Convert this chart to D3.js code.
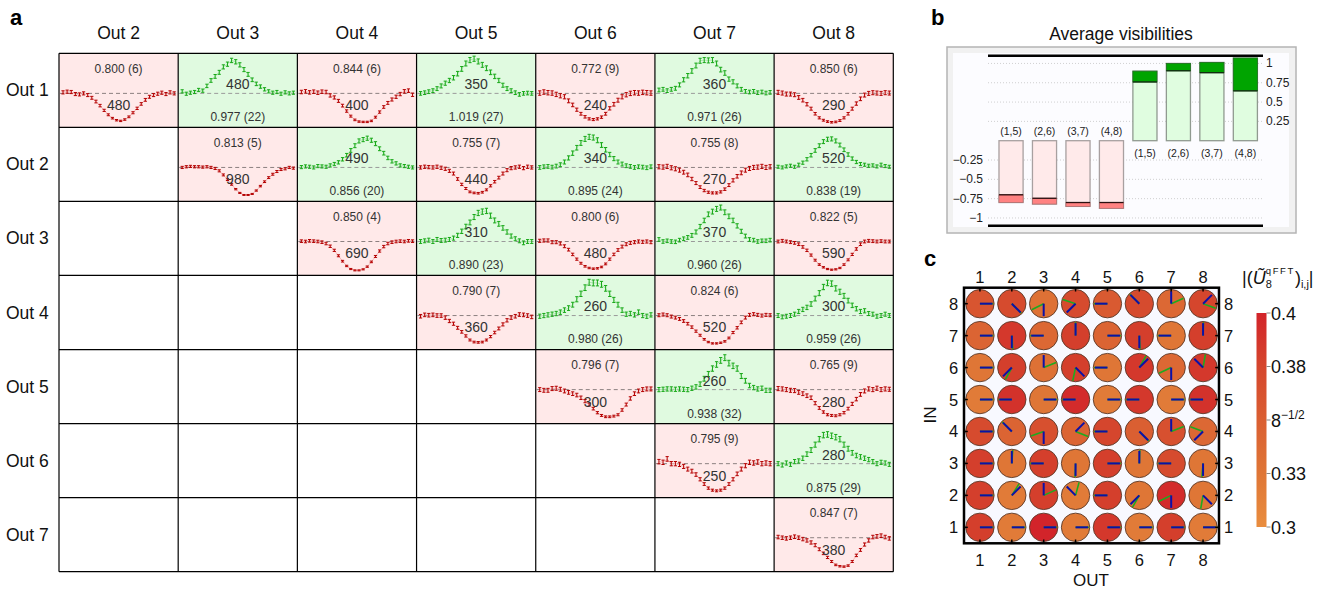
<!DOCTYPE html>
<html><head><meta charset="utf-8">
<script src="https://cdn.jsdelivr.net/npm/d3@7"></script>
<style>
body{margin:0;background:#fff;}
svg{display:block;font-family:"Liberation Sans",Arial,Helvetica,sans-serif;}
</style>
</head><body>
<svg id="chart" width="1320" height="593"></svg>
<script>
// ---------------- Panel a data ----------------
const outCols = ["Out 2","Out 3","Out 4","Out 5","Out 6","Out 7","Out 8"];
const outRows = ["Out 1","Out 2","Out 3","Out 4","Out 5","Out 6","Out 7"];
const cellPairs = [[1,2],[1,3],[1,4],[1,5],[1,6],[1,7],[1,8],
  [2,3],[2,4],[2,5],[2,6],[2,7],[2,8],
  [3,4],[3,5],[3,6],[3,7],[3,8],
  [4,5],[4,6],[4,7],[4,8],
  [5,6],[5,7],[5,8],
  [6,7],[6,8],
  [7,8]];
const cellKind = ["dip","peak","dip","peak","dip","peak","dip",
  "dip","peak","dip","peak","dip","peak",
  "dip","peak","dip","peak","dip",
  "dip","peak","dip","peak",
  "dip","peak","dip",
  "dip","peak",
  "dip"];
const visLabels = ["0.800 (6)","0.977 (22)","0.844 (6)","1.019 (27)","0.772 (9)","0.971 (26)","0.850 (6)",
  "0.813 (5)","0.856 (20)","0.755 (7)","0.895 (24)","0.755 (8)","0.838 (19)",
  "0.850 (4)","0.890 (23)","0.800 (6)","0.960 (26)","0.822 (5)",
  "0.790 (7)","0.980 (26)","0.824 (6)","0.959 (26)",
  "0.796 (7)","0.938 (32)","0.765 (9)",
  "0.795 (9)","0.875 (29)",
  "0.847 (7)"];
const countLabels = [480,480,400,350,240,360,290,
  980,490,440,340,270,520,
  690,310,480,370,590,
  360,260,520,300,
  300,260,280,
  250,280,
  380];
// normalised coincidence rates (baseline = 1)
const curves = [
 [1.03,1.05,1.04,0.98,0.97,1.00,0.95,0.87,0.76,0.64,0.50,0.37,0.27,0.21,0.19,0.23,0.31,0.43,0.56,0.69,0.81,0.90,0.95,0.99,1.02,0.98,1.03,1.00],
 [1.06,0.99,1.02,1.04,1.10,1.08,1.22,1.38,1.50,1.62,1.78,1.86,1.97,1.93,1.84,1.70,1.56,1.40,1.28,1.20,1.12,1.06,1.02,1.04,0.99,1.03,1.00,1.02],
 [1.04,1.06,1.03,1.05,1.02,1.05,1.04,0.94,0.88,0.78,0.64,0.48,0.33,0.22,0.17,0.16,0.16,0.19,0.30,0.45,0.60,0.72,0.82,0.90,0.98,1.06,1.08,0.96],
 [1.00,1.02,1.05,1.08,1.14,1.22,1.30,1.38,1.46,1.58,1.72,1.88,1.98,2.02,1.94,1.84,1.74,1.62,1.50,1.38,1.24,1.14,1.08,1.02,0.97,1.00,1.01,1.00],
 [1.01,1.04,1.02,1.01,0.97,0.93,0.90,0.78,0.66,0.52,0.40,0.31,0.25,0.23,0.25,0.30,0.40,0.56,0.68,0.80,0.90,0.96,1.00,1.02,1.01,1.03,1.02,1.01],
 [1.10,1.12,1.08,1.12,1.15,1.25,1.40,1.52,1.66,1.82,1.96,1.98,1.97,1.98,1.88,1.70,1.60,1.42,1.34,1.22,1.12,1.06,1.04,1.06,1.02,1.04,1.01,1.03],
 [1.03,1.01,0.98,0.98,0.96,0.88,0.80,0.68,0.55,0.40,0.28,0.21,0.17,0.15,0.16,0.20,0.28,0.40,0.55,0.70,0.84,0.95,1.00,1.02,1.01,1.00,1.02,1.01],
 [1.00,1.02,1.03,1.02,1.02,1.01,1.02,1.00,0.97,0.90,0.78,0.64,0.50,0.36,0.25,0.19,0.19,0.22,0.32,0.45,0.58,0.70,0.80,0.88,0.94,0.96,1.00,0.98],
 [1.01,1.03,1.02,1.00,1.04,1.03,1.02,1.06,1.10,1.15,1.24,1.36,1.50,1.64,1.78,1.82,1.86,1.80,1.70,1.55,1.42,1.28,1.18,1.12,1.06,1.04,1.02,1.00],
 [1.00,1.02,1.01,1.00,1.02,0.99,0.96,0.90,0.82,0.66,0.50,0.38,0.28,0.25,0.24,0.27,0.34,0.46,0.58,0.70,0.82,0.92,0.98,1.00,1.02,0.98,1.02,1.00],
 [1.00,1.02,1.03,1.01,1.04,1.08,1.16,1.28,1.42,1.58,1.72,1.84,1.90,1.88,1.80,1.66,1.52,1.38,1.26,1.16,1.10,1.05,1.03,1.00,1.02,1.01,0.99,1.02],
 [1.02,1.01,1.03,0.99,0.96,0.92,0.86,0.78,0.66,0.54,0.42,0.32,0.27,0.25,0.25,0.28,0.36,0.48,0.62,0.74,0.84,0.92,0.97,1.00,1.01,1.03,1.00,1.02],
 [1.02,1.00,1.03,1.05,1.02,1.08,1.14,1.24,1.36,1.50,1.64,1.76,1.83,1.84,1.78,1.66,1.52,1.38,1.26,1.16,1.10,1.08,1.05,1.06,1.03,1.08,1.04,1.02],
 [1.01,1.00,1.02,1.01,1.00,0.98,0.94,0.86,0.74,0.58,0.42,0.28,0.19,0.15,0.15,0.18,0.26,0.40,0.56,0.72,0.85,0.94,0.98,1.00,1.01,1.00,1.02,1.01],
 [1.00,1.02,1.04,1.00,1.06,1.03,1.04,1.06,1.10,1.18,1.30,1.44,1.56,1.72,1.84,1.88,1.90,1.76,1.62,1.52,1.40,1.28,1.16,1.08,1.02,0.96,1.00,1.00],
 [1.02,1.03,1.03,0.98,0.98,0.94,0.86,0.76,0.62,0.48,0.36,0.27,0.22,0.20,0.21,0.25,0.34,0.48,0.62,0.75,0.85,0.92,0.96,0.98,1.00,0.99,1.00,0.98],
 [1.06,1.00,1.02,1.00,0.99,1.04,1.08,1.12,1.18,1.28,1.44,1.62,1.80,1.88,1.96,2.00,1.86,1.74,1.62,1.46,1.30,1.16,1.06,1.04,1.00,1.02,1.02,1.04],
 [1.00,1.02,1.00,0.98,0.96,0.92,0.84,0.74,0.60,0.45,0.32,0.24,0.19,0.17,0.18,0.22,0.32,0.46,0.62,0.78,0.92,1.00,1.02,1.01,1.00,1.01,1.00,1.00],
 [0.98,1.02,1.01,1.02,1.00,1.00,0.94,0.84,0.76,0.64,0.52,0.40,0.28,0.22,0.21,0.22,0.28,0.38,0.50,0.62,0.74,0.86,0.94,0.98,1.03,1.02,1.00,0.96],
 [0.98,1.00,1.02,1.04,1.06,1.10,1.16,1.22,1.32,1.48,1.64,1.82,1.98,1.96,1.96,1.92,1.80,1.64,1.46,1.32,1.16,1.04,1.06,1.02,1.10,1.00,0.98,1.02],
 [1.01,1.03,1.01,0.97,0.94,0.90,0.84,0.76,0.66,0.54,0.42,0.30,0.22,0.18,0.18,0.20,0.24,0.34,0.50,0.64,0.80,0.94,1.02,1.04,1.02,1.00,1.02,1.01],
 [1.00,0.96,0.98,1.00,1.04,1.12,1.18,1.24,1.34,1.50,1.66,1.84,1.96,1.94,1.80,1.70,1.58,1.44,1.30,1.20,1.12,1.14,1.06,1.04,0.98,1.00,1.04,1.00],
 [1.00,0.98,0.98,1.03,1.04,1.01,0.96,0.92,0.88,0.84,0.76,0.66,0.56,0.44,0.32,0.24,0.20,0.20,0.22,0.26,0.40,0.56,0.74,0.88,0.96,1.00,1.02,1.02],
 [1.00,1.01,1.02,1.02,1.01,1.02,1.01,1.00,1.04,1.08,1.16,1.32,1.46,1.62,1.74,1.86,1.94,1.78,1.70,1.62,1.40,1.26,1.12,1.06,1.02,1.04,0.98,0.98],
 [1.03,1.02,1.00,0.98,0.97,0.92,0.88,0.82,0.76,0.60,0.46,0.34,0.26,0.24,0.23,0.26,0.32,0.44,0.58,0.72,0.86,0.96,1.02,1.00,1.04,1.00,1.02,1.01],
 [1.06,1.04,1.14,1.00,1.00,0.98,0.92,0.84,0.78,0.68,0.54,0.40,0.28,0.22,0.20,0.22,0.28,0.40,0.54,0.70,0.84,0.94,1.04,1.02,1.05,1.00,1.02,1.00],
 [1.00,0.96,1.02,0.98,1.06,1.08,1.16,1.28,1.40,1.56,1.72,1.84,1.86,1.82,1.78,1.72,1.56,1.44,1.32,1.24,1.20,1.16,1.12,1.06,1.00,1.04,1.02,0.98],
 [1.02,1.00,0.98,1.00,1.03,1.00,0.96,0.92,0.86,0.78,0.66,0.54,0.42,0.30,0.20,0.16,0.15,0.18,0.30,0.48,0.64,0.80,0.92,1.02,1.04,1.06,1.02,0.98]
];

// ---------------- Panel b data ----------------
const visPairs = ["(1,5)","(2,6)","(3,7)","(4,8)"];
const dipInner = [-0.70,-0.745,-0.80,-0.80];
const dipOuter = [-0.80,-0.82,-0.85,-0.875];
const peakInner = [0.76,0.905,0.88,0.645];
const peakOuter = [0.90,1.00,1.013,1.07];
const leftTicks = [-0.25,-0.5,-0.75,-1];
const rightTicks = [1,0.75,0.5,0.25];

// ---------------- Panel c data ----------------
const outIdx = [1,2,3,4,5,6,7,8];
const inIdx = [8,7,6,5,4,3,2,1]; // rows top to bottom
const magnitude = [
 [0.36,0.37,0.33,0.37,0.355,0.37,0.34,0.375],
 [0.345,0.385,0.34,0.38,0.345,0.38,0.325,0.38],
 [0.325,0.38,0.33,0.38,0.325,0.385,0.34,0.385],
 [0.32,0.39,0.325,0.395,0.32,0.385,0.32,0.39],
 [0.37,0.345,0.365,0.345,0.375,0.35,0.365,0.34],
 [0.38,0.325,0.38,0.325,0.38,0.325,0.37,0.325],
 [0.38,0.32,0.38,0.32,0.38,0.325,0.395,0.325],
 [0.38,0.32,0.40,0.32,0.385,0.32,0.38,0.32]
];
const bluePhase = [
 [0,315,270,225,180,135,90,45],
 [0,270,180,90,0,270,180,90],
 [0,225,90,315,180,45,270,135],
 [0,180,0,180,0,180,0,180],
 [0,135,270,45,180,315,90,225],
 [0,90,180,270,0,90,180,270],
 [0,45,90,135,180,225,270,315],
 [0,0,0,0,0,0,0,0]
];
const greenPhase = [
 [0,315,207,162,180,135,24,-20],
 [0,274,180,90,0,273,180,88],
 [0,242,22,258,180,60,205,80],
 [0,180,0,180,0,180,0,180],
 [0,135,200,-22,180,315,22,160],
 [0,86,180,268,0,88,180,265],
 [0,58,24,75,180,240,206,260],
 [0,0,0,0,0,0,0,0]
];
const cbTicks = [0.4,0.375,0.35,0.325,0.3];
const cbTickLabels = ["0.4","0.38","8^-1/2","0.33","0.3"];

// ======================================================
const svg = d3.select("#chart");

// panel letters
svg.append("text").attr("x",10).attr("y",25).attr("font-size",22).attr("font-weight","bold").text("a");
svg.append("text").attr("x",931).attr("y",25).attr("font-size",22).attr("font-weight","bold").text("b");
svg.append("text").attr("x",924).attr("y",266).attr("font-size",22).attr("font-weight","bold").text("c");

// ---------------- Panel a ----------------
const gA = svg.append("g");
const colScale = d3.scaleBand().domain(outCols).range([59, 893.3]);
const rowScale = d3.scaleBand().domain(outRows).range([53.3, 571.7]);
const cw = colScale.bandwidth(), rh = rowScale.bandwidth();

cellPairs.forEach((p,k)=>{
  const x0 = colScale(outCols[p[1]-2]), y0 = rowScale(outRows[p[0]-1]);
  gA.append("rect").attr("x",x0).attr("y",y0).attr("width",cw).attr("height",rh)
    .attr("fill", cellKind[k]==="dip" ? "#ffe9e9" : "#e0fae0");
});

cellPairs.forEach((p,k)=>{
  const x0 = colScale(outCols[p[1]-2]), y0 = rowScale(outRows[p[0]-1]);
  const isDip = cellKind[k]==="dip";
  const data = curves[k];
  const xs = d3.scaleLinear().domain([0, data.length-1]).range([x0+4, x0+cw-4]);
  const ys = d3.scaleLinear().domain([0, 2.18]).range([y0+rh, y0]);
  const g = gA.append("g");
  g.append("line").attr("x1",x0+1).attr("x2",x0+cw-1).attr("y1",ys(1)).attr("y2",ys(1))
    .attr("stroke", isDip ? "#8c8080" : "#9a9a9a").attr("stroke-width",1).attr("stroke-dasharray","4,3");
  g.append("path").datum(data)
    .attr("d", d3.line().x((d,i)=>xs(i)).y(d=>ys(d)))
    .attr("fill","none").attr("stroke", isDip ? "#f4b0b0" : "#a8e4a8").attr("stroke-width",0.9);
  const col = isDip ? "#b40000" : "#16a816";
  const N = countLabels[k];
  data.forEach((v,i)=>{
    const err = Math.sqrt(v*N)/N;
    const x = xs(i), ya = ys(v+err), yb = ys(v-err);
    g.append("line").attr("x1",x).attr("x2",x).attr("y1",ya).attr("y2",yb).attr("stroke",col).attr("stroke-width",1);
    g.append("line").attr("x1",x-1.6).attr("x2",x+1.6).attr("y1",ya).attr("y2",ya).attr("stroke",col).attr("stroke-width",1);
    g.append("line").attr("x1",x-1.6).attr("x2",x+1.6).attr("y1",yb).attr("y2",yb).attr("stroke",col).attr("stroke-width",1);
  });
  const cx = x0 + cw/2;
  if (isDip) {
    g.append("text").attr("x",cx).attr("y",y0+19.5).attr("text-anchor","middle").attr("font-size",12).attr("fill","#333").text(visLabels[k]);
    g.append("text").attr("x",cx).attr("y",y0+57).attr("text-anchor","middle").attr("font-size",14).attr("fill","#333").text(countLabels[k]);
  } else {
    g.append("text").attr("x",cx).attr("y",y0+36).attr("text-anchor","middle").attr("font-size",14).attr("fill","#333").text(countLabels[k]);
    g.append("text").attr("x",cx).attr("y",y0+68).attr("text-anchor","middle").attr("font-size",12).attr("fill","#333").text(visLabels[k]);
  }
});

outCols.forEach(c=>{
  const x = colScale(c);
  gA.append("line").attr("x1",x).attr("x2",x).attr("y1",53.3).attr("y2",571.7).attr("stroke","#000").attr("stroke-width",1.2);
});
gA.append("line").attr("x1",893.3).attr("x2",893.3).attr("y1",53.3).attr("y2",571.7).attr("stroke","#000").attr("stroke-width",1.2);
outRows.forEach(r=>{
  const y = rowScale(r);
  gA.append("line").attr("x1",59).attr("x2",893.3).attr("y1",y).attr("y2",y).attr("stroke","#000").attr("stroke-width",1.2);
});
gA.append("line").attr("x1",59).attr("x2",893.3).attr("y1",571.7).attr("y2",571.7).attr("stroke","#000").attr("stroke-width",1.2);

outCols.forEach(c=>{
  gA.append("text").attr("x",colScale(c)+cw/2).attr("y",39).attr("text-anchor","middle").attr("font-size",17.5).attr("fill","#111").text(c);
});
outRows.forEach(r=>{
  gA.append("text").attr("x",6).attr("y",rowScale(r)+rh/2+6).attr("font-size",17.5).attr("fill","#111").text(r);
});

// ---------------- Panel b ----------------
const gB = svg.append("g");
gB.append("text").attr("x",1121).attr("y",40).attr("text-anchor","middle").attr("font-size",17.5).attr("fill","#111").text("Average visibilities");
gB.append("rect").attr("x",947).attr("y",47).attr("width",349).attr("height",186).attr("fill","#f1f1f1").attr("stroke","#b4b4b4").attr("stroke-width",1.5);
gB.append("rect").attr("x",953).attr("y",53).attr("width",336).attr("height",174).attr("fill","#fcfcff");
const yB = d3.scaleLinear().domain([-1.1,1.1]).range([225.7,55.7]);
const xB = d3.scaleBand().domain(d3.range(8)).range([994.3,1262.1]).paddingInner(0.28).paddingOuter(0.14);
leftTicks.concat(rightTicks).forEach(t=>{
  gB.append("line").attr("x1",988).attr("x2",1263).attr("y1",yB(t)).attr("y2",yB(t))
    .attr("stroke","#c4c4c4").attr("stroke-width",0.8).attr("stroke-dasharray","1,2");
});
const bw = xB.bandwidth();
visPairs.forEach((lab,i)=>{
  const x = xB(i);
  gB.append("rect").attr("x",x).attr("y",yB(0)).attr("width",bw).attr("height",yB(dipOuter[i])-yB(0))
    .attr("fill","#ffeaea").attr("stroke","#a8a0a0").attr("stroke-width",1.3);
  gB.append("rect").attr("x",x).attr("y",yB(dipInner[i])).attr("width",bw).attr("height",yB(dipOuter[i])-yB(dipInner[i]))
    .attr("fill","#ff8282").attr("stroke","#b07070").attr("stroke-width",0.8);
  gB.append("line").attr("x1",x).attr("x2",x+bw).attr("y1",yB(dipInner[i])).attr("y2",yB(dipInner[i])).attr("stroke","#2a1010").attr("stroke-width",1.3);
  gB.append("text").attr("x",x+bw/2).attr("y",yB(0)-6).attr("text-anchor","middle").attr("font-size",10.5).attr("fill","#222").text(lab);

  const xg = xB(i+4);
  gB.append("rect").attr("x",xg).attr("y",yB(peakOuter[i])).attr("width",bw).attr("height",yB(0)-yB(peakOuter[i]))
    .attr("fill","#e0fde0").attr("stroke","#909a90").attr("stroke-width",1.3);
  gB.append("rect").attr("x",xg).attr("y",yB(peakOuter[i])).attr("width",bw).attr("height",yB(peakInner[i])-yB(peakOuter[i]))
    .attr("fill","#00a400").attr("stroke","#207020").attr("stroke-width",0.8);
  gB.append("line").attr("x1",xg).attr("x2",xg+bw).attr("y1",yB(peakInner[i])).attr("y2",yB(peakInner[i])).attr("stroke","#102a10").attr("stroke-width",1.3);
  gB.append("text").attr("x",xg+bw/2).attr("y",yB(0)+16).attr("text-anchor","middle").attr("font-size",10.5).attr("fill","#222").text(lab);
});
gB.append("line").attr("x1",988).attr("x2",1263).attr("y1",yB(1.1)).attr("y2",yB(1.1)).attr("stroke","#000").attr("stroke-width",2.5);
gB.append("line").attr("x1",988).attr("x2",1263).attr("y1",yB(-1.1)).attr("y2",yB(-1.1)).attr("stroke","#000").attr("stroke-width",2.5);
leftTicks.forEach(t=>{
  gB.append("text").attr("x",983).attr("y",yB(t)+4).attr("text-anchor","end").attr("font-size",12).attr("fill","#222").text(d3.format(".2~f")(t).replace("-","\u2212"));
});
rightTicks.forEach(t=>{
  gB.append("text").attr("x",1266).attr("y",yB(t)+4).attr("font-size",12).attr("fill","#222").text(d3.format(".2~f")(t));
});

// ---------------- Panel c ----------------
const gC = svg.append("g");
const xC = d3.scaleLinear().domain([0.5,8.5]).range([964,1219]);
const yC = d3.scaleLinear().domain([0.5,8.5]).range([543.3,287.7]);
const colorC = d3.scaleLinear().domain([0.3,0.325,0.35,0.375,0.4])
  .range(["#e98d3e","#df7636","#da5f32","#d5462d","#d2242a"]);
gC.append("rect").attr("x",964).attr("y",287.7).attr("width",255).attr("height",255.6).attr("fill","#f8f9ff");
const R = 14.2;
inIdx.forEach((inn,r)=>{
  outIdx.forEach((out,c)=>{
    const cx = xC(out), cy = yC(inn);
    gC.append("circle").attr("cx",cx).attr("cy",cy).attr("r",R)
      .attr("fill",colorC(magnitude[r][c])).attr("stroke","#5a3a2a").attr("stroke-width",0.9);
    const ga = greenPhase[r][c]*Math.PI/180, ba = bluePhase[r][c]*Math.PI/180;
    gC.append("line").attr("x1",cx).attr("y1",cy).attr("x2",cx+R*0.95*Math.cos(ga)).attr("y2",cy-R*0.95*Math.sin(ga))
      .attr("stroke","#1faa1f").attr("stroke-width",1.6);
    gC.append("line").attr("x1",cx).attr("y1",cy).attr("x2",cx+R*0.88*Math.cos(ba)).attr("y2",cy-R*0.88*Math.sin(ba))
      .attr("stroke","#0c10a8").attr("stroke-width",2);
  });
});
gC.append("rect").attr("x",964).attr("y",287.7).attr("width",255).attr("height",255.6).attr("fill","none").attr("stroke","#000").attr("stroke-width",2.5);
outIdx.forEach(v=>{
  const x = xC(v);
  gC.append("line").attr("x1",x).attr("x2",x).attr("y1",287.7).attr("y2",291.5).attr("stroke","#000").attr("stroke-width",1.5);
  gC.append("line").attr("x1",x).attr("x2",x).attr("y1",543.3).attr("y2",539.5).attr("stroke","#000").attr("stroke-width",1.5);
  gC.append("text").attr("x",x).attr("y",282.5).attr("text-anchor","middle").attr("font-size",16.5).attr("fill","#111").text(v);
  gC.append("text").attr("x",x).attr("y",566).attr("text-anchor","middle").attr("font-size",16.5).attr("fill","#111").text(v);
});
inIdx.forEach(v=>{
  const y = yC(v);
  gC.append("line").attr("x1",964).attr("x2",967.8).attr("y1",y).attr("y2",y).attr("stroke","#000").attr("stroke-width",1.5);
  gC.append("line").attr("x1",1219).attr("x2",1215.2).attr("y1",y).attr("y2",y).attr("stroke","#000").attr("stroke-width",1.5);
  gC.append("text").attr("x",953.5).attr("y",y+6).attr("text-anchor","middle").attr("font-size",16.5).attr("fill","#111").text(v);
  gC.append("text").attr("x",1228.5).attr("y",y+6).attr("text-anchor","middle").attr("font-size",16.5).attr("fill","#111").text(v);
});
gC.append("text").attr("x",1091).attr("y",586).attr("text-anchor","middle").attr("font-size",17).attr("fill","#111").text("OUT");
gC.append("text").attr("transform","translate(936,415) rotate(-90)").attr("text-anchor","middle").attr("font-size",17).attr("fill","#111").text("IN");

// colorbar
const defs = svg.append("defs");
const grad = defs.append("linearGradient").attr("id","cbgrad").attr("x1",0).attr("y1",1).attr("x2",0).attr("y2",0);
const yCB = d3.scaleLinear().domain([0.3,0.4]).range([527,313]);
colorC.domain().forEach(d=>{
  grad.append("stop").attr("offset",(d-0.3)/0.1).attr("stop-color",colorC(d));
});
gC.append("rect").attr("x",1256.5).attr("y",yCB(0.4)).attr("width",10).attr("height",yCB(0.3)-yCB(0.4)).attr("fill","url(#cbgrad)");
cbTicks.forEach((t,i)=>{
  const y = yCB(t);
  gC.append("line").attr("x1",1266.5).attr("x2",1270.5).attr("y1",y).attr("y2",y).attr("stroke","#888").attr("stroke-width",1);
  const tx = gC.append("text").attr("x",1271).attr("y",y+6.5).attr("font-size",18).attr("fill","#111");
  const lab = cbTickLabels[i];
  if (lab.indexOf("^")>=0) {
    const parts = lab.split("^");
    tx.append("tspan").text(parts[0]);
    tx.append("tspan").attr("font-size",12).attr("dy",-8).text(parts[1].replace("-","\u2212"));
  } else tx.text(lab);
});
const tt = gC.append("text").attr("x",1242).attr("y",284).attr("font-size",18).attr("fill","#111");
tt.append("tspan").text("|(");
tt.append("tspan").attr("font-style","italic").text("\u0168");
tt.append("tspan").attr("font-size",11).attr("dy",4).text("8");
tt.append("tspan").attr("font-size",9.5).attr("dx",-6).attr("dy",-14).attr("letter-spacing",1.6).text("qFFT");
tt.append("tspan").attr("font-size",18).attr("dy",10).text(")");
tt.append("tspan").attr("font-size",11).attr("dy",4).text("i,j");
tt.append("tspan").attr("font-size",18).attr("dy",-4).text("|");
</script>
</body></html>
